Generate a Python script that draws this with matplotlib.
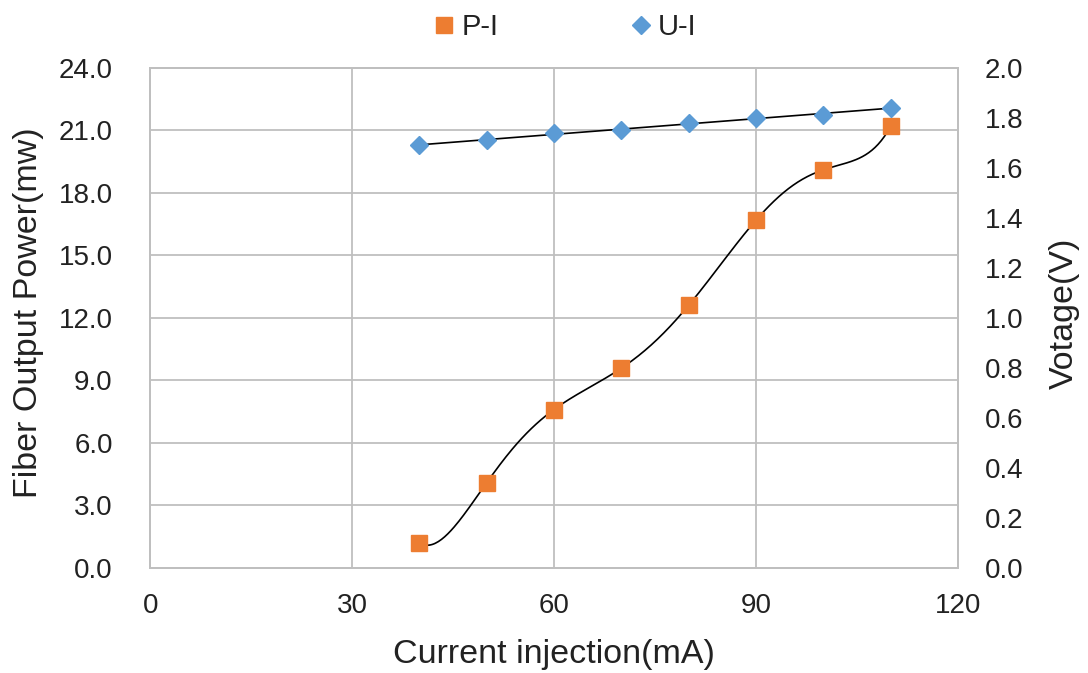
import numpy as np
import matplotlib
matplotlib.use('Agg')
import matplotlib.pyplot as plt
from matplotlib.lines import Line2D

plt.rcParams['font.family'] = ['Liberation Sans', 'DejaVu Sans']

current = [40, 50, 60, 70, 80, 90, 100, 110]
power = [1.2, 4.1, 7.6, 9.6, 12.6, 16.7, 19.1, 21.2]
voltage = [1.69, 1.71, 1.74, 1.75, 1.78, 1.80, 1.81, 1.84]

orange = '#ED7D31'
blue = '#5B9BD5'
grid_c = '#BFBFBF'
txt_c = '#222222'

fig = plt.figure(figsize=(10.88, 6.73), dpi=100)
ax = fig.add_axes([0.138, 0.156, 0.7426, 0.7434])
ax2 = ax.twinx()

# trendlines: 6th order polynomial for P-I, linear for U-I
xx = np.linspace(current[0], current[-1], 300)
ax.plot(xx, np.polyval(np.polyfit(current, power, 6), xx), color='black', lw=1.2, zorder=3)
ax.plot(current, power, 's', color=orange, ms=11.5, zorder=4)

ax2.plot(xx, np.polyval(np.polyfit(current, voltage, 1), xx), color='black', lw=1.2, zorder=3)
ax2.plot(current, voltage, 'D', color=blue, ms=9.5, zorder=4)

ax.set_xlim(0, 120)
ax.set_ylim(0, 24)
ax2.set_ylim(0, 2.0)
ax.set_xticks(np.arange(0, 121, 30))
ax.set_yticks(np.arange(0, 24.1, 3))
ax.set_yticklabels(['%.1f' % v for v in np.arange(0, 24.1, 3)])
ax2.set_yticks(np.arange(0, 2.01, 0.2))
ax2.set_yticklabels(['%.1f' % v for v in np.arange(0, 2.01, 0.2)])

ax.grid(True, color=grid_c, lw=1.3)
ax.set_axisbelow(True)
for a in (ax, ax2):
    for s in a.spines.values():
        s.set_color(grid_c)
        s.set_linewidth(1.3)
ax.tick_params(axis='x', length=0, labelsize=20, colors=txt_c, pad=18)
ax.tick_params(axis='y', length=0, labelsize=20, colors=txt_c, pad=27)
ax2.tick_params(axis='y', length=0, labelsize=20, colors=txt_c, pad=19)

ax.set_xlabel('Current injection(mA)', fontsize=24.5, color=txt_c, va='center')
ax.xaxis.set_label_coords(0.5, -0.173)
ax.set_ylabel('Fiber Output Power(mw)', fontsize=24.5, color=txt_c, va='center')
ax.yaxis.set_label_coords(-0.151, 0.51)
ax2.set_ylabel('Votage(V)', fontsize=24.5, color=txt_c, va='center', rotation=90)
ax2.yaxis.set_label_coords(1.131, 0.51)

handles = [Line2D([], [], ls='', marker='s', color=orange, ms=11),
           Line2D([], [], ls='', marker='D', color=blue, ms=9.5)]
fig.legend(handles, ['P-I', 'U-I'], loc='center', bbox_to_anchor=(0.519, 0.96),
           ncol=2, frameon=False, fontsize=21, handlelength=0.8,
           handletextpad=0.18, columnspacing=4.5, labelcolor=txt_c)

fig.savefig('out.png', dpi=100)
